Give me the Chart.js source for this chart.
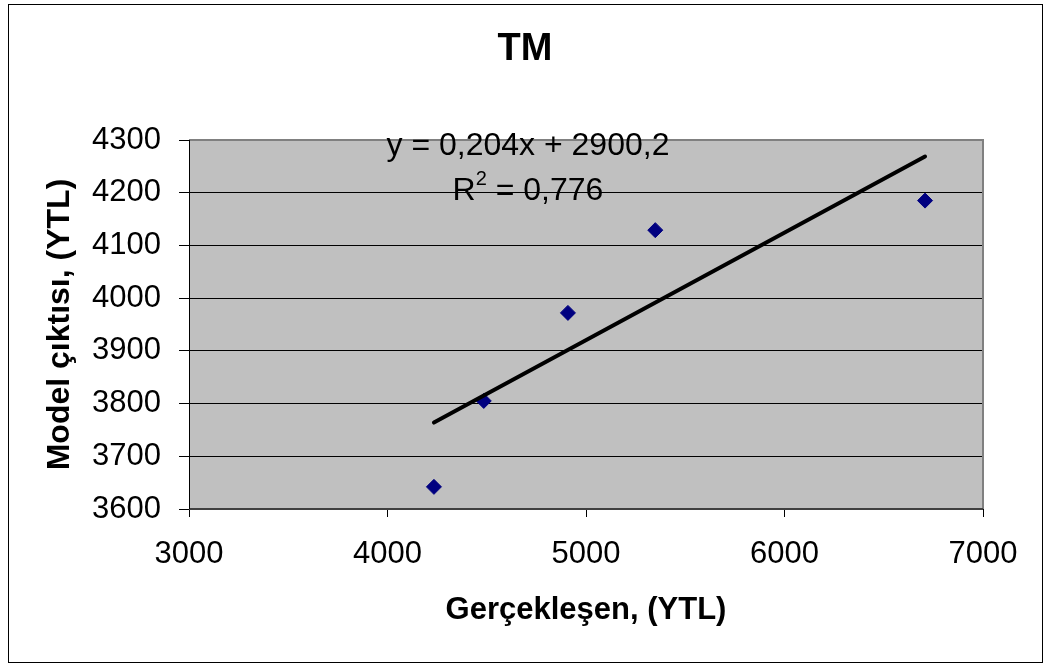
<!DOCTYPE html>
<html>
<head>
<meta charset="utf-8">
<script src="https://cdn.jsdelivr.net/npm/chart.js@4.4.1/dist/chart.umd.min.js"></script>
<style>
  html, body { margin: 0; padding: 0; background: #ffffff; }
  #wrap { width: 1045px; height: 664px; }
</style>
</head>
<body>
<div id="wrap"><canvas id="chart" width="1045" height="664"></canvas></div>
<script>
// Observed vs. model output (YTL)
const actualValues = [4234, 4485, 4909, 5349, 6708];
const modelValues  = [3642, 3805, 3972, 4129, 4185];

// Linear trend line y = a·x + b and its R²
const trendSlope = 0.204;
const trendIntercept = 2900.2;
const rSquared = 0.776;

// Axis tick values
const xTickValues = [3000, 4000, 5000, 6000, 7000];
const yTickValues = [3600, 3700, 3800, 3900, 4000, 4100, 4200, 4300];

const chartTitle = 'TM';
const xAxisTitle = 'Gerçekleşen, (YTL)';
const yAxisTitle = 'Model çıktısı, (YTL)';

const FONT = '"Liberation Sans", Arial, sans-serif';

const points = actualValues.map((x, i) => ({ x: x, y: modelValues[i] }));
const xFirst = Math.min(...actualValues);
const xLast = Math.max(...actualValues);
const trendPoints = [
  { x: xFirst, y: trendSlope * xFirst + trendIntercept },
  { x: xLast, y: trendSlope * xLast + trendIntercept }
];

const fmtComma = (v, d) => v.toFixed(d).replace('.', ',');
const equationText = 'y = ' + fmtComma(trendSlope, 3) + 'x + ' + fmtComma(trendIntercept, 1);
const rValueText = ' = ' + fmtComma(rSquared, 3);

// Frame, plot background and plot border
const framePlugin = {
  id: 'frame',
  beforeDraw(chart) {
    const { ctx, chartArea: a } = chart;
    ctx.save();
    ctx.fillStyle = '#ffffff';
    ctx.fillRect(0, 0, chart.width, chart.height);
    ctx.strokeStyle = '#000000';
    ctx.lineWidth = 1;
    ctx.strokeRect(8.5, 4.5, 1034, 658);
    ctx.fillStyle = '#c0c0c0';
    ctx.fillRect(a.left, a.top, a.right - a.left, a.bottom - a.top);
    ctx.restore();
  },
  beforeDatasetsDraw(chart) {
    const { ctx, chartArea: a } = chart;
    ctx.save();
    ctx.strokeStyle = '#808080';
    ctx.lineWidth = 2;
    ctx.beginPath();
    ctx.moveTo(a.left, a.top);
    ctx.lineTo(a.right, a.top);
    ctx.lineTo(a.right, a.bottom);
    ctx.stroke();
    ctx.strokeStyle = '#404040';
    ctx.beginPath();
    ctx.moveTo(a.left, a.bottom);
    ctx.lineTo(a.right, a.bottom);
    ctx.stroke();
    ctx.strokeStyle = '#000000';
    ctx.lineWidth = 1;
    ctx.beginPath();
    ctx.moveTo(a.left + 0.5, a.top);
    ctx.lineTo(a.left + 0.5, a.bottom);
    ctx.stroke();
    ctx.restore();
  },
  afterDraw(chart) {
    const { ctx } = chart;
    ctx.save();
    ctx.fillStyle = '#000000';
    ctx.textBaseline = 'middle';
    // Chart title
    ctx.font = 'bold 38px ' + FONT;
    ctx.textAlign = 'center';
    ctx.fillText(chartTitle, 525, 50);
    // Trend line equation
    ctx.font = '32px ' + FONT;
    ctx.fillText(equationText, 528, 146);
    // R² line
    ctx.textAlign = 'left';
    const bigFont = '32px ' + FONT;
    const supFont = '20px ' + FONT;
    ctx.font = bigFont;
    const wR = ctx.measureText('R').width;
    const wV = ctx.measureText(rValueText).width;
    ctx.font = supFont;
    const wS = ctx.measureText('2').width;
    const total = wR + wS + wV;
    let x = 528 - total / 2;
    const yLine = 191;
    ctx.font = bigFont;
    ctx.fillText('R', x, yLine);
    x += wR;
    ctx.font = supFont;
    ctx.fillText('2', x, yLine - 12);
    x += wS;
    ctx.font = bigFont;
    ctx.fillText(rValueText, x, yLine);
    ctx.restore();
  }
};

new Chart(document.getElementById('chart'), {
  type: 'scatter',
  data: {
    datasets: [
      {
        label: 'Trend',
        type: 'line',
        data: trendPoints,
        borderColor: '#000000',
        borderWidth: 4,
        borderCapStyle: 'round',
        pointRadius: 0,
        fill: false,
        tension: 0
      },
      {
        label: 'TM',
        data: points,
        pointStyle: 'rectRot',
        pointRadius: 7.5,
        pointBackgroundColor: '#000080',
        pointBorderColor: '#000080',
        pointBorderWidth: 1
      }
    ]
  },
  options: {
    responsive: false,
    animation: false,
    devicePixelRatio: 1,
    layout: { padding: { left: 20, top: 140, right: 62, bottom: 10 } },
    plugins: {
      legend: { display: false },
      tooltip: { enabled: false },
      title: { display: false }
    },
    scales: {
      x: {
        type: 'linear',
        min: 3000,
        max: 7000,
        afterBuildTicks: s => { s.ticks = xTickValues.map(v => ({ value: v })); },
        afterFit: s => { s.height = 145; },
        grid: { drawOnChartArea: false, drawTicks: true, tickLength: 8, tickColor: '#000000' },
        border: { display: false },
        ticks: {
          color: '#000000',
          padding: 19,
          maxRotation: 0,
          font: { family: FONT, size: 31 },
          callback: v => String(v)
        },
        title: {
          display: true,
          text: xAxisTitle,
          color: '#000000',
          font: { family: FONT, size: 31, weight: 'bold' },
          padding: { top: 0, bottom: 25 }
        }
      },
      y: {
        type: 'linear',
        min: 3600,
        max: 4300,
        afterBuildTicks: s => { s.ticks = yTickValues.map(v => ({ value: v })); },
        afterFit: s => { s.width = 169; },
        grid: {
          color: ctx => (ctx.tick && ctx.tick.value === 4300) ? 'rgba(0,0,0,0)' : '#000000',
          lineWidth: 1,
          drawTicks: true,
          tickLength: 10,
          tickColor: '#000000'
        },
        border: { display: false },
        ticks: {
          color: '#000000',
          padding: 18,
          font: { family: FONT, size: 31 },
          callback: v => String(v)
        },
        title: {
          display: true,
          text: yAxisTitle,
          color: '#000000',
          font: { family: FONT, size: 32, weight: 'bold' },
          padding: { top: 21, bottom: 0 }
        }
      }
    }
  },
  plugins: [framePlugin]
});
</script>
</body>
</html>
